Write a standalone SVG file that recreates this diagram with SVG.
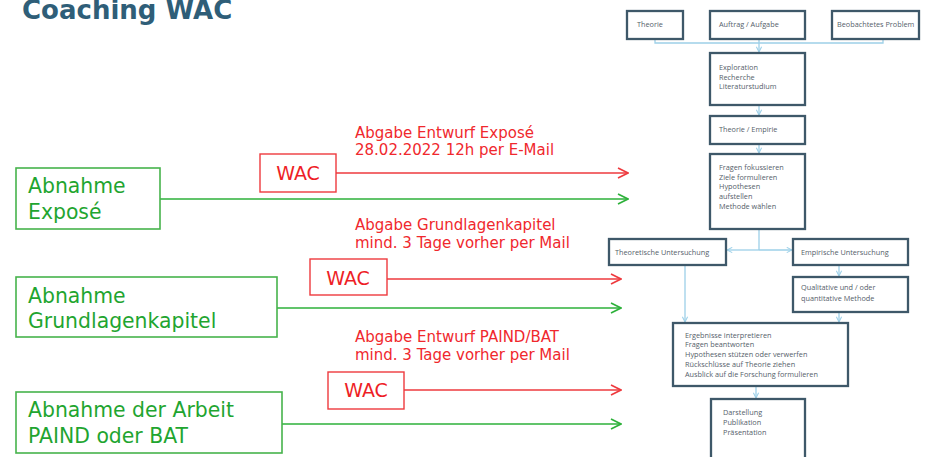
<svg xmlns="http://www.w3.org/2000/svg" width="930" height="457" viewBox="0 0 930 457">
<defs>
<style>
.title{font-family:"DejaVu Sans",Verdana,sans-serif;font-weight:bold;font-size:26px;fill:#2F5E78}
.gbox{fill:#fff;stroke:#46B34C;stroke-width:1.6}
.gtxt{font-family:"DejaVu Sans",Verdana,sans-serif;font-size:20.4px;fill:#1FA530}
.rbox{fill:#fff;stroke:#EE3A3E;stroke-width:1.4}
.rtxt{font-family:"DejaVu Sans",Verdana,sans-serif;font-size:19px;fill:#EE1E26}
.rlab{font-family:"DejaVu Sans",Verdana,sans-serif;font-size:15px;fill:#F0282D}
.gl{stroke:#2DB13A;stroke-width:1.6;fill:none}
.rl{stroke:#EE3A3E;stroke-width:1.6;fill:none}
.fbox{fill:#fff;stroke:#3E5869;stroke-width:2.3}
.ftxt{font-family:"Open Sans","Noto Sans",sans-serif;font-size:7.3px;fill:#55606A}
.bl{stroke:#9DD0E8;stroke-width:1.3;fill:none}
</style>
<marker id="ag" viewBox="0 0 12 12" refX="11" refY="6" markerWidth="12" markerHeight="12" markerUnits="userSpaceOnUse" orient="auto"><path d="M1,1 L11,6 L1,11" fill="none" stroke="#2DB13A" stroke-width="1.6"/></marker>
<marker id="ar" viewBox="0 0 12 12" refX="11" refY="6" markerWidth="12" markerHeight="12" markerUnits="userSpaceOnUse" orient="auto"><path d="M1,1 L11,6 L1,11" fill="none" stroke="#EE3A3E" stroke-width="1.6"/></marker>
<marker id="ab" viewBox="0 0 8 8" refX="7" refY="4" markerWidth="7" markerHeight="7" markerUnits="userSpaceOnUse" orient="auto"><path d="M1,1 L7,4 L1,7" fill="none" stroke="#9DD0E8" stroke-width="1.2"/></marker>
</defs>
<rect width="930" height="457" fill="#fff"/>
<text class="title" x="22" y="19">Coaching WAC</text>

<g id="connectors">
<path class="gl" d="M160,199 H628" marker-end="url(#ag)"/>
<path class="gl" d="M277,308 H621" marker-end="url(#ag)"/>
<path class="gl" d="M282,424 H621" marker-end="url(#ag)"/>
<path class="rl" d="M336,173 H628" marker-end="url(#ar)"/>
<path class="rl" d="M387,279 H621" marker-end="url(#ar)"/>
<path class="rl" d="M404,390 H621" marker-end="url(#ar)"/>
<path class="bl" d="M655,39 V43 H883 V39"/>
<path class="bl" d="M759,39 V52" marker-end="url(#ab)"/>
<path class="bl" d="M759,105 V115" marker-end="url(#ab)"/>
<path class="bl" d="M759,144 V153" marker-end="url(#ab)"/>
<path class="bl" d="M759,229 V250"/>
<path class="bl" d="M759,250 H727" marker-end="url(#ab)"/>
<path class="bl" d="M759,250 H792" marker-end="url(#ab)"/>
<path class="bl" d="M839,265 V276" marker-end="url(#ab)"/>
<path class="bl" d="M685,265 V322" marker-end="url(#ab)"/>
<path class="bl" d="M839,312 V322" marker-end="url(#ab)"/>
<path class="bl" d="M756,386 V398" marker-end="url(#ab)"/>
</g>

<g id="abnahme-expose">
<rect class="gbox" x="16" y="168" width="144" height="61"/>
<text class="gtxt" x="28" y="193">Abnahme</text>
<text class="gtxt" x="28" y="219">Exposé</text>
</g>
<g id="abnahme-grundlagen">
<rect class="gbox" x="16" y="277" width="261" height="60"/>
<text class="gtxt" x="28" y="303">Abnahme</text>
<text class="gtxt" x="28" y="328">Grundlagenkapitel</text>
</g>
<g id="abnahme-arbeit">
<rect class="gbox" x="16" y="392" width="266" height="61"/>
<text class="gtxt" x="28" y="417">Abnahme der Arbeit</text>
<text class="gtxt" x="28" y="443">PAIND oder BAT</text>
</g>

<g id="wac1">
<rect class="rbox" x="260" y="154" width="76" height="38"/>
<text class="rtxt" x="298" y="180" text-anchor="middle">WAC</text>
</g>
<g id="wac2">
<rect class="rbox" x="310" y="259" width="77" height="36"/>
<text class="rtxt" x="348" y="285" text-anchor="middle">WAC</text>
</g>
<g id="wac3">
<rect class="rbox" x="328" y="372" width="76" height="37"/>
<text class="rtxt" x="366" y="397" text-anchor="middle">WAC</text>
</g>

<g id="label1">
<text class="rlab" x="355" y="138">Abgabe Entwurf Exposé</text>
<text class="rlab" x="355" y="155">28.02.2022 12h per E-Mail</text>
</g>
<g id="label2">
<text class="rlab" x="355" y="230">Abgabe Grundlagenkapitel</text>
<text class="rlab" x="355" y="248">mind. 3 Tage vorher per Mail</text>
</g>
<g id="label3">
<text class="rlab" x="355" y="342">Abgabe Entwurf PAIND/BAT</text>
<text class="rlab" x="355" y="360">mind. 3 Tage vorher per Mail</text>
</g>

<g id="theorie">
<rect class="fbox" x="627" y="11" width="56" height="28"/>
<text class="ftxt" x="637" y="27">Theorie</text>
</g>
<g id="auftrag">
<rect class="fbox" x="710" y="11" width="95" height="28"/>
<text class="ftxt" x="719" y="27">Auftrag / Aufgabe</text>
</g>
<g id="problem">
<rect class="fbox" x="832" y="11" width="87" height="28"/>
<text class="ftxt" x="837" y="27">Beobachtetes Problem</text>
</g>
<g id="exploration">
<rect class="fbox" x="710" y="53" width="95" height="52"/>
<text class="ftxt" x="719" y="70">Exploration</text>
<text class="ftxt" x="719" y="79.5">Recherche</text>
<text class="ftxt" x="719" y="89">Literaturstudium</text>
</g>
<g id="theorie-empirie">
<rect class="fbox" x="710" y="116" width="95" height="28"/>
<text class="ftxt" x="719" y="131.5">Theorie / Empirie</text>
</g>
<g id="fragen">
<rect class="fbox" x="710" y="154" width="95" height="75"/>
<text class="ftxt" x="719" y="170">Fragen fokussieren</text>
<text class="ftxt" x="719" y="179.5">Ziele formulieren</text>
<text class="ftxt" x="719" y="189">Hypothesen</text>
<text class="ftxt" x="719" y="199">aufstellen</text>
<text class="ftxt" x="719" y="209">Methode wählen</text>
</g>
<g id="theoretische">
<rect class="fbox" x="609" y="239" width="117" height="26"/>
<text class="ftxt" x="615" y="255">Theoretische Untersuchung</text>
</g>
<g id="empirische">
<rect class="fbox" x="793" y="239" width="115" height="26"/>
<text class="ftxt" x="801" y="255">Empirische Untersuchung</text>
</g>
<g id="qualitative">
<rect class="fbox" x="793" y="277" width="115" height="35"/>
<text class="ftxt" x="801" y="290">Qualitative und / oder</text>
<text class="ftxt" x="801" y="300.5">quantitative Methode</text>
</g>
<g id="ergebnisse">
<rect class="fbox" x="673" y="323" width="175" height="63"/>
<text class="ftxt" x="685" y="337.5">Ergebnisse interpretieren</text>
<text class="ftxt" x="685" y="347">Fragen beantworten</text>
<text class="ftxt" x="685" y="357">Hypothesen stützen oder verwerfen</text>
<text class="ftxt" x="685" y="366.5">Rückschlüsse auf Theorie ziehen</text>
<text class="ftxt" x="685" y="376.5">Ausblick auf die Forschung formulieren</text>
</g>
<g id="darstellung">
<rect class="fbox" x="711" y="399" width="94" height="70"/>
<text class="ftxt" x="723" y="414.5">Darstellung</text>
<text class="ftxt" x="723" y="424.5">Publikation</text>
<text class="ftxt" x="723" y="434.5">Präsentation</text>
</g>
</svg>
